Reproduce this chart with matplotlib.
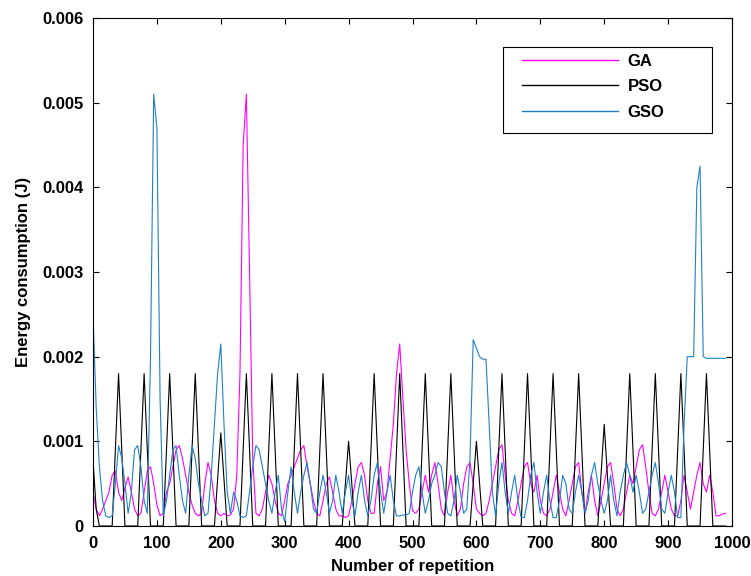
import numpy as np
import matplotlib
matplotlib.use('Agg')
import matplotlib.pyplot as plt
from matplotlib.patches import Rectangle

plt.rcParams['font.family'] = ['Liberation Sans', 'DejaVu Sans']
plt.rcParams['font.weight'] = 'bold'

# repetition index, one sample every 5 repetitions
repetition = np.arange(0, 991, 5)

ga = [
    0.0004, 0.0002, 0.00012, 0.0002, 0.0003, 0.0004, 0.0006, 0.00065, 0.0004, 0.0003,
    0.00045, 0.00058, 0.0004, 0.0002, 0.00012, 0.00015, 0.0004, 0.00065, 0.0007, 0.0005,
    0.00025, 0.00012, 0.00015, 0.0004, 0.0005, 0.0007, 0.0009, 0.00095, 0.0008, 0.0006,
    0.0004, 0.00025, 0.00015, 0.00012, 0.00015, 0.0005, 0.00075, 0.0006, 0.0003, 0.00015,
    0.00012, 0.00015, 0.00012, 0.00013, 0.0002, 0.0006, 0.0018, 0.0045, 0.0051, 0.003,
    0.0008, 0.00015, 0.00012, 0.0002, 0.0004, 0.0006, 0.0005, 0.0003, 0.00015, 0.00012,
    0.0003, 0.0005, 0.0006, 0.0007, 0.0008, 0.0009, 0.00095, 0.0007, 0.0005, 0.0003,
    0.00015, 0.00012, 0.0003, 0.0005, 0.00058, 0.0004, 0.0002, 0.00012, 0.00012, 0.0001,
    0.00012, 0.0003, 0.0005, 0.0007, 0.00075, 0.0006, 0.0003, 0.00015, 0.00015, 0.0005,
    0.0007, 0.0003, 0.0004, 0.0008, 0.0012, 0.0018, 0.00215, 0.0015, 0.0009, 0.0005,
    0.00018, 0.00015, 0.0002, 0.0004, 0.0006, 0.0004, 0.0006, 0.00075, 0.0005, 0.0002,
    0.00012, 0.0004, 0.0006, 0.0003, 0.00012, 0.0002, 0.0005, 0.0007, 0.00075, 0.0005,
    0.0002, 0.00015, 0.00012, 0.00015, 0.0003, 0.0005, 0.0007, 0.0009, 0.00096, 0.0006,
    0.0003, 0.00015, 0.00012, 0.0003, 0.0005, 0.0007, 0.00075, 0.0005, 0.0004, 0.0006,
    0.0003, 0.00015, 0.00012, 0.0002, 0.0004, 0.0006, 0.0004, 0.0002, 0.00012, 0.0003,
    0.0005, 0.0007, 0.00075, 0.0004, 0.00015, 0.0004, 0.0006, 0.0003, 0.00012, 0.0003,
    0.0005, 0.0007, 0.00075, 0.0005, 0.0002, 0.00012, 0.0002, 0.0004, 0.0006, 0.0005,
    0.0007, 0.0009, 0.00096, 0.0007, 0.0004, 0.00015, 0.00012, 0.0002, 0.0004, 0.0006,
    0.0004, 0.0002, 0.00012, 0.00012, 0.0003, 0.0006, 0.0004, 0.0002, 0.0004, 0.0006,
    0.00075, 0.0005, 0.0004, 0.0006, 0.0004, 0.00012, 0.00012, 0.00014, 0.00015,
]

pso = [
    0.00078, 0.0002, 0, 0, 0, 0, 0, 0.0009, 0.0018, 0.0009,
    0, 0, 0, 0, 0, 0.0009, 0.0018, 0.0009, 0, 0,
    0, 0, 0, 0.0009, 0.0018, 0.0009, 0, 0, 0, 0,
    0, 0.0009, 0.0018, 0.0009, 0, 0, 0, 0, 0, 0.00055,
    0.0011, 0.00055, 0, 0, 0, 0, 0, 0.0009, 0.0018, 0.0009,
    0, 0, 0, 0, 0, 0.0009, 0.0018, 0.0009, 0, 0,
    0, 0, 0, 0.0009, 0.0018, 0.0009, 0, 0, 0, 0,
    0, 0.0009, 0.0018, 0.0009, 0, 0, 0, 0, 0, 0.0005,
    0.001, 0.0005, 0, 0, 0, 0, 0, 0.0009, 0.0018, 0.0009,
    0, 0, 0, 0, 0, 0.0009, 0.0018, 0.0009, 0, 0,
    0, 0, 0, 0.0009, 0.0018, 0.0009, 0, 0, 0, 0,
    0, 0.0009, 0.0018, 0.0009, 0, 0, 0, 0, 0, 0.0005,
    0.001, 0.0005, 0, 0, 0, 0, 0, 0.0009, 0.0018, 0.0009,
    0, 0, 0, 0, 0, 0.0009, 0.0018, 0.0009, 0, 0,
    0, 0, 0, 0.0009, 0.0018, 0.0009, 0, 0, 0, 0,
    0, 0.0009, 0.0018, 0.0009, 0, 0, 0, 0, 0, 0.0006,
    0.0012, 0.0006, 0, 0, 0, 0, 0, 0.0009, 0.0018, 0.0009,
    0, 0, 0, 0, 0, 0.0009, 0.0018, 0.0009, 0, 0,
    0, 0, 0, 0.0009, 0.0018, 0.0009, 0, 0, 0, 0,
    0, 0.0009, 0.0018, 0.0009, 0, 0, 0, 0, 0,
]

gso = [
    0.0025, 0.0014, 0.0007, 0.0003, 0.00012, 0.0001, 0.00012, 0.0005, 0.00095, 0.0008,
    0.0005, 0.00015, 0.0004, 0.0009, 0.00095, 0.0007, 0.0003, 0.00015, 0.002, 0.0051,
    0.0047, 0.0015, 0.00012, 0.0003, 0.0006, 0.0009, 0.00095, 0.0006, 0.0003, 0.00015,
    0.0006, 0.00095, 0.0008, 0.0005, 0.0003, 0.00012, 0.00015, 0.0006, 0.0012, 0.0018,
    0.00215, 0.0012, 0.0004, 0.00015, 0.0004, 0.0003, 0.00012, 0.0001, 0.00012, 0.0004,
    0.0007, 0.00095, 0.0009, 0.0007, 0.0005, 0.0003, 0.00015, 0.0004, 0.0006, 0.0002,
    0.00005, 0.0004, 0.0007, 0.0004, 0.00015, 0.0004, 0.0006, 0.00075, 0.0005, 0.0002,
    0.00015, 0.0004, 0.0006, 0.0004, 0.00015, 0.0003, 0.0006, 0.0004, 0.00015, 0.0004,
    0.0006, 0.0003, 0.00012, 0.0004, 0.0006, 0.0003, 0.00012, 0.0003, 0.0006, 0.00075,
    0.0004, 0.00015, 0.0004, 0.0006, 0.0003, 0.00012, 0.00012, 0.00013, 0.00013, 0.00015,
    0.0004, 0.0006, 0.0007, 0.0004, 0.00015, 0.0003, 0.0005, 0.0006, 0.00075, 0.0007,
    0.0004, 0.00015, 0.00012, 0.0003, 0.0006, 0.0004, 0.00015, 0.0002, 0.0008, 0.0022,
    0.0021, 0.002, 0.00197, 0.00197, 0.0012, 0.0004, 0.00012, 0.0005, 0.00075, 0.0004,
    0.00015, 0.0004, 0.0006, 0.0003, 0.0001, 0.0001, 0.0003, 0.0006, 0.00075, 0.0004,
    0.00015, 0.0004, 0.0006, 0.0003, 0.0001, 0.0001, 0.0003, 0.0006, 0.0005, 0.0002,
    0.00015, 0.0004, 0.0006, 0.0004, 0.00015, 0.0003, 0.0006, 0.00075, 0.0005, 0.0003,
    0.00015, 0.0003, 0.0006, 0.0003, 0.00012, 0.0004, 0.0006, 0.00075, 0.0006, 0.0004,
    0.0006, 0.0004, 0.00015, 0.0002, 0.0004, 0.0006, 0.00075, 0.0005, 0.0002, 0.00015,
    0.0004, 0.0006, 0.0004, 0.0001, 0.0001, 0.0012, 0.002, 0.002, 0.002, 0.004,
    0.00425, 0.002, 0.00198, 0.00198, 0.00198, 0.00198, 0.00198, 0.00198, 0.00198,
]

x_ticks = list(range(0, 1001, 100))
y_ticks = [0, 0.001, 0.002, 0.003, 0.004, 0.005, 0.006]
y_tick_labels = ['0', '0.001', '0.002', '0.003', '0.004', '0.005', '0.006']

W, H = 751, 576
fig = plt.figure(figsize=(W / 100, H / 100), dpi=100)
ax = fig.add_axes([93 / W, 1 - 526 / H, 639 / W, 508 / H])

ax.plot(repetition, ga, color='#ff00ff', lw=0.8, label='GA')
ax.plot(repetition, pso, color='#000000', lw=0.8, label='PSO')
ax.plot(repetition, gso, color='#1f82c8', lw=0.8, label='GSO')

ax.set_xlim(0, 1000)
ax.set_ylim(0, 0.006)
ax.set_xticks(x_ticks)
ax.set_yticks(y_ticks)
ax.set_yticklabels(y_tick_labels)
ax.tick_params(direction='in', top=True, right=True, length=4, width=0.8,
               labelsize=12, pad=7)
for lab in ax.get_xticklabels() + ax.get_yticklabels():
    lab.set_fontweight('bold')
for s in ax.spines.values():
    s.set_linewidth(0.8)

ax.set_xlabel('Number of repetition', fontsize=12, fontweight='bold', labelpad=6)
ax.set_ylabel('Energy consumption (J)', fontsize=12, fontweight='bold', labelpad=8)

# legend entries without frame, box drawn separately
leg = ax.legend(loc='upper left', bbox_to_anchor=(522 / W, 1 - 54 / H),
                bbox_transform=fig.transFigure, frameon=False,
                handlelength=5.75, handletextpad=0.6, labelspacing=0.62,
                borderpad=0, borderaxespad=0, prop={'size': 12, 'weight': 'bold'})
for line in leg.get_lines():
    line.set_linewidth(1.0)
fig.patches.append(Rectangle((503 / W, 1 - 133 / H), 209 / W, 86 / H,
                             transform=fig.transFigure, fill=False,
                             edgecolor='black', linewidth=0.8, zorder=5))

fig.savefig('out.png', dpi=100)
